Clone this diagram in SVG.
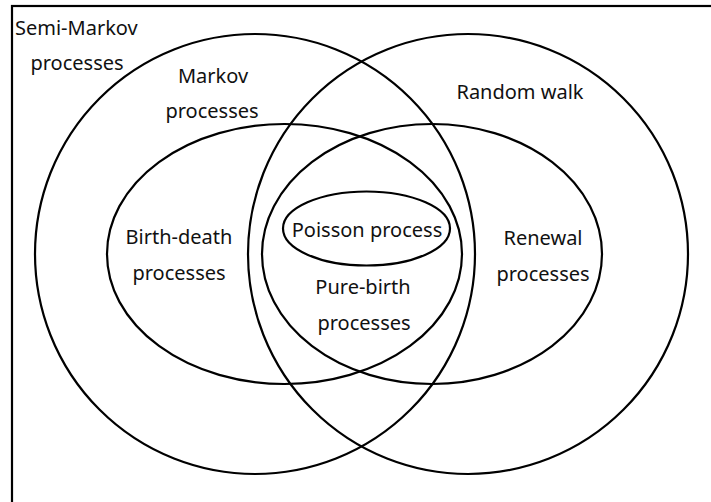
<svg xmlns="http://www.w3.org/2000/svg" width="711" height="502" viewBox="0 0 711 502">
<style>
.s{fill:none;stroke:#000;stroke-width:2.2}
text{font-family:"Noto Sans","Open Sans",sans-serif;font-size:20px;fill:#111;text-anchor:middle}
</style>
<rect x="0" y="0" width="711" height="502" fill="#fff"/>
<rect class="s" x="12" y="6" width="720" height="520"/>
<g id="semi-markov"><circle class="s" cx="255" cy="254" r="220"/><text x="15" y="35" style="text-anchor:start">Semi-Markov</text><text x="77" y="70">processes</text></g>
<g id="markov"><text x="213" y="83">Markov</text><text x="212" y="118">processes</text></g>
<g id="random-walk"><circle class="s" cx="468" cy="254" r="220"/><text x="520" y="99">Random walk</text></g>
<g id="birth-death"><ellipse class="s" cx="284.5" cy="254" rx="177.5" ry="130"/><text x="179" y="244">Birth-death</text><text x="179" y="280">processes</text></g>
<g id="renewal"><ellipse class="s" cx="432" cy="254" rx="170" ry="130"/><text x="543" y="245">Renewal</text><text x="543" y="281">processes</text></g>
<g id="pure-birth"><text x="363" y="294">Pure-birth</text><text x="364" y="330">processes</text></g>
<g id="poisson"><ellipse class="s" cx="366.5" cy="228.5" rx="83.5" ry="37"/><text x="367" y="237">Poisson process</text></g>
<g id="connectors"></g>
</svg>
